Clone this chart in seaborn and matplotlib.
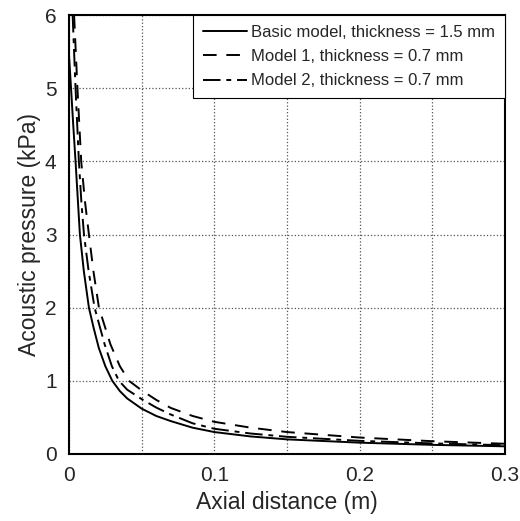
import pandas as pd
import matplotlib
matplotlib.use("Agg")
import matplotlib.pyplot as plt
import seaborn as sns

# Values (x in m, pressure in kPa)
basic_x = [0.0, 0.0014, 0.0029, 0.0045, 0.006, 0.0075, 0.0102, 0.0137, 0.017, 0.0205,
           0.025, 0.0298, 0.035, 0.04, 0.05, 0.06, 0.07, 0.085, 0.1, 0.125,
           0.15, 0.2, 0.25, 0.3]
basic_p = [5.45, 5.0, 4.5, 4.0, 3.5, 3.0, 2.5, 2.0, 1.72, 1.45,
           1.2, 1.0, 0.86, 0.76, 0.62, 0.52, 0.45, 0.36, 0.3, 0.24,
           0.2, 0.155, 0.125, 0.105]

model1_x = [0.0035, 0.0058, 0.0084, 0.011, 0.0137, 0.0168, 0.0206, 0.0285, 0.035, 0.0413,
            0.05, 0.06, 0.07, 0.085, 0.1, 0.125, 0.15, 0.2, 0.25, 0.3]
model1_p = [6.0, 5.0, 4.0, 3.45, 3.0, 2.5, 2.0, 1.5, 1.2, 1.0,
            0.87, 0.74, 0.63, 0.52, 0.44, 0.36, 0.3, 0.225, 0.175, 0.14]

model2_x = [0.0025, 0.0045, 0.0068, 0.0085, 0.0103, 0.0135, 0.0176, 0.0245, 0.0295, 0.0344,
            0.04, 0.05, 0.06, 0.07, 0.085, 0.1, 0.125, 0.15, 0.2, 0.25, 0.3]
model2_p = [6.0, 5.0, 4.0, 3.45, 3.0, 2.5, 2.0, 1.5, 1.2, 1.0,
            0.88, 0.75, 0.635, 0.54, 0.42, 0.345, 0.28, 0.235, 0.18, 0.145, 0.12]

labels = ["Basic model, thickness = 1.5 mm",
          "Model 1, thickness = 0.7 mm",
          "Model 2, thickness = 0.7 mm"]

sns.set_style("white")
plt.rcParams["font.family"] = ["Liberation Sans", "DejaVu Sans"]

fig = plt.figure(figsize=(5.2, 5.21), dpi=100)
ax = fig.add_axes([0.1327, 0.1286, 0.8383, 0.8426])

series = [(basic_x, basic_p, "-"),
          (model1_x, model1_p, (0, (7, 5))),
          (model2_x, model2_p, (0, (9, 3, 2.5, 3)))]
for (xs, ps, ls), lab in zip(series, labels):
    df = pd.DataFrame({"x": xs, "p": ps})
    sns.lineplot(data=df, x="x", y="p", ax=ax, color="black", lw=1.4,
                 label=lab, estimator=None, sort=False)
    ax.lines[-1].set_linestyle(ls)

ax.set_xlim(0, 0.3)
ax.set_ylim(0, 6)
ax.set_xticks([0, 0.1, 0.2, 0.3])
ax.set_xticklabels(["0", "0.1", "0.2", "0.3"])
ax.set_yticks(range(0, 7))
ax.set_xticks([0.05, 0.15, 0.25], minor=True)
ax.grid(True, which="both", linestyle=":", color="#555555", lw=0.9)
ax.tick_params(which="major", direction="in", length=5, width=1, labelsize=15, pad=9)
ax.tick_params(which="minor", length=0)
for s in ax.spines.values():
    s.set_color("black")
    s.set_linewidth(1.5)

ax.set_xlabel("Axial distance (m)", fontsize=16.5, labelpad=4)
ax.set_ylabel("Acoustic pressure (kPa)", fontsize=16.5, labelpad=3)

leg = ax.legend(loc="upper right", fontsize=12, frameon=True, fancybox=False,
                handlelength=2.6, handletextpad=0.25, borderaxespad=0,
                borderpad=0.6, labelspacing=0.55)
leg.get_frame().set_edgecolor("black")
leg.get_frame().set_linewidth(0.8)
leg.get_frame().set_alpha(1)

fig.savefig("out.png", dpi=100)
